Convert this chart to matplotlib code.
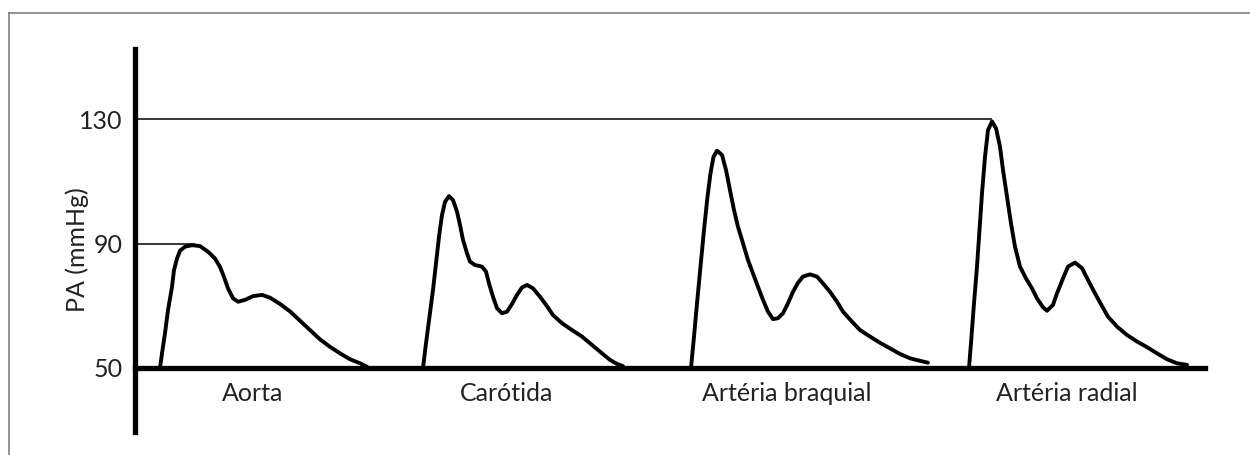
import matplotlib.pyplot as plt
from matplotlib.lines import Line2D

# pulse waveforms: time (arbitrary units) and pressure (mmHg)
aorta_t = [25, 27, 30, 33, 37, 39, 42, 45, 50, 57, 65, 73, 80, 85, 89, 93, 98, 103, 110, 118,
           127, 135, 145, 155, 165, 175, 185, 195, 205, 215, 225, 232]
aorta_p = [50, 54.7, 61.2, 68.6, 76.1, 81.5, 85.2, 87.7, 89.0, 89.5, 89.2, 87.4, 85.2, 82.5, 79.3, 75.6,
           72.4, 71.3, 71.9, 73.1, 73.5, 72.6, 70.6, 68.2, 65.2, 62.2, 59.2, 56.8, 54.7, 52.8, 51.5, 50.4]

carotida_t = [288, 291, 294.5, 298, 301, 304, 307, 310, 314, 318, 322, 325, 328, 332, 335, 340, 347, 351,
              354, 358, 362, 367, 372, 377, 382, 387, 392, 398, 405, 412, 418, 427, 437, 447, 457, 467,
              475, 482, 488]
carotida_p = [50, 57.9, 66.5, 75.1, 83.6, 92.2, 99.2, 103.4, 105.3, 104.0, 100.3, 96.0, 91.2, 86.9, 84.2,
              83.1, 82.6, 81.0, 77.2, 72.9, 69.2, 67.6, 68.1, 70.6, 73.5, 75.9, 76.7, 75.6, 72.9, 69.9,
              67.0, 64.4, 62.2, 60.1, 57.4, 54.7, 52.6, 51.3, 50.6]

braquial_t = [556, 559, 562, 565.5, 569, 572.5, 575.5, 578.5, 582, 587, 591, 595, 599, 603, 608, 613, 618, 623,
              628, 633, 638, 643, 648, 653, 658, 663, 668, 675, 682, 688, 695, 702, 708, 717, 725, 735,
              745, 755, 765, 775, 785, 793]
braquial_p = [50, 60.1, 70.8, 82.6, 94.4, 105.1, 112.6, 117.9, 119.9, 118.5, 113.7, 107.2, 100.8, 95.4,
              90.1, 84.7, 80.4, 76.1, 71.9, 68.1, 65.7, 66.0, 67.6, 70.8, 74.5, 77.4, 79.4, 80.1, 79.4,
              77.2, 74.5, 71.3, 68.1, 64.9, 62.2, 60.1, 58.1, 56.3, 54.5, 53.1, 52.3, 51.7]

radial_t = [834, 836.5, 839, 842, 844.5, 847, 850, 853, 857, 861, 865, 868, 872, 876, 880, 885, 891, 897,
            902, 908, 912, 918, 922, 928, 933, 940, 947, 953, 960, 967, 973, 982, 992, 1002, 1012,
            1022, 1032, 1042, 1052]
radial_p = [50, 60.1, 70.8, 82.6, 94.4, 106.2, 117.9, 126.5, 129.3, 127.1, 121.2, 113.7, 105.1, 96.5,
            89.0, 82.6, 78.8, 75.6, 72.4, 69.5, 68.4, 70.3, 74.0, 78.8, 82.6, 83.9, 82.1, 78.3, 74.0,
            69.9, 66.5, 63.3, 60.6, 58.5, 56.7, 54.7, 52.8, 51.5, 51.0]

nomes = ["Aorta", "Carótida", "Artéria braquial", "Artéria radial"]
nome_x = [118, 372, 652, 932]
yticks = [50, 90, 130]

fonte = "Lato"
cor_texto = "#222222"

fig = plt.figure(figsize=(12.5, 4.55), dpi=100)
ax = fig.add_axes([135 / 1250, 23 / 455, 1070 / 1250, 383 / 455])
ax.set_xlim(0, 1070)
ax.set_ylim(29.4, 152.6)

for t, p in [(aorta_t, aorta_p), (carotida_t, carotida_p), (braquial_t, braquial_p), (radial_t, radial_p)]:
    ax.plot(t, p, color="black", lw=2.8, solid_joinstyle="round", solid_capstyle="round", zorder=3)

# linhas de referência até os picos
ax.hlines(130, 0, radial_t[radial_p.index(max(radial_p))], color="black", lw=1.1)
ax.hlines(90, 0, aorta_t[aorta_p.index(max(aorta_p))] + 3, color="black", lw=1.1)

for spine in ["top", "right"]:
    ax.spines[spine].set_visible(False)
ax.spines["left"].set_linewidth(3.8)
ax.spines["bottom"].set_linewidth(3.8)
ax.spines["bottom"].set_position(("data", 50))

ax.set_xticks([])
ax.set_yticks(yticks)
ax.set_yticklabels([str(v) for v in yticks], fontsize=18, family=fonte, color=cor_texto)
ax.tick_params(axis="y", length=0, pad=9)

ax.text(-0.054, 0.475, "PA (mmHg)", transform=ax.transAxes, rotation=90,
        ha="center", va="center", fontsize=18, family=fonte, color=cor_texto)

for nome, x in zip(nomes, nome_x):
    ax.text(x, 41.8, nome, ha="center", va="center", fontsize=18, family=fonte, color=cor_texto)

# moldura cinza (só topo e esquerda)
fig.add_artist(Line2D([9 / 1250, 1], [1 - 13 / 455, 1 - 13 / 455], color="#808080", lw=1.2))
fig.add_artist(Line2D([9 / 1250, 9 / 1250], [0, 1 - 13 / 455], color="#808080", lw=1.2))

fig.savefig("out.png", dpi=100)
